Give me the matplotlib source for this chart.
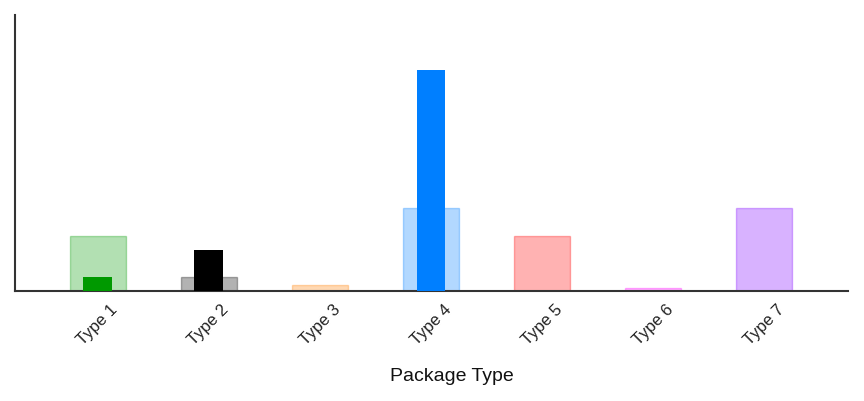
import matplotlib.pyplot as plt
import numpy as np

plt.rcParams['font.family'] = ['Liberation Sans', 'DejaVu Sans']

categories = ["Type 1", "Type 2", "Type 3", "Type 4", "Type 5", "Type 6", "Type 7"]
wide_values = [20, 5, 2, 30, 20, 1, 30]
narrow_values = [5, 15, 0, 80, 0, 0, 0]
base_colors = ["#009900", "#000000", "#ff8000", "#007fff", "#ff0000", "#ff00ff", "#8000ff"]


def main():
    fig = plt.figure(figsize=(8.64, 4.02), dpi=100)
    ax = fig.add_axes([15 / 864, 110 / 402, 833 / 864, 276 / 402])

    x = np.arange(len(categories))
    for i, c in enumerate(base_colors):
        ax.bar(x[i], wide_values[i], width=0.5, color=c, alpha=0.3,
               edgecolor=c, linewidth=1)
        if narrow_values[i] > 0:
            ax.bar(x[i], narrow_values[i], width=0.26, color=c, zorder=3)

    ax.set_xlim(-0.745, 6.755)
    ax.set_ylim(0, 100)
    ax.set_yticks([])
    ax.set_xticks(x)
    ax.set_xticklabels(categories, rotation=45, fontsize=12, color="#222222")
    ax.tick_params(axis="x", length=0, pad=7)
    ax.set_xlabel("Package Type", fontsize=14, color="#111111")
    ax.xaxis.set_label_coords(437 / 833, -0.275)

    for s in ["top", "right"]:
        ax.spines[s].set_visible(False)
    for s in ["left", "bottom"]:
        ax.spines[s].set_color("#333333")
        ax.spines[s].set_linewidth(1.5)

    fig.savefig("out.png", dpi=100)


if __name__ == "__main__":
    main()
